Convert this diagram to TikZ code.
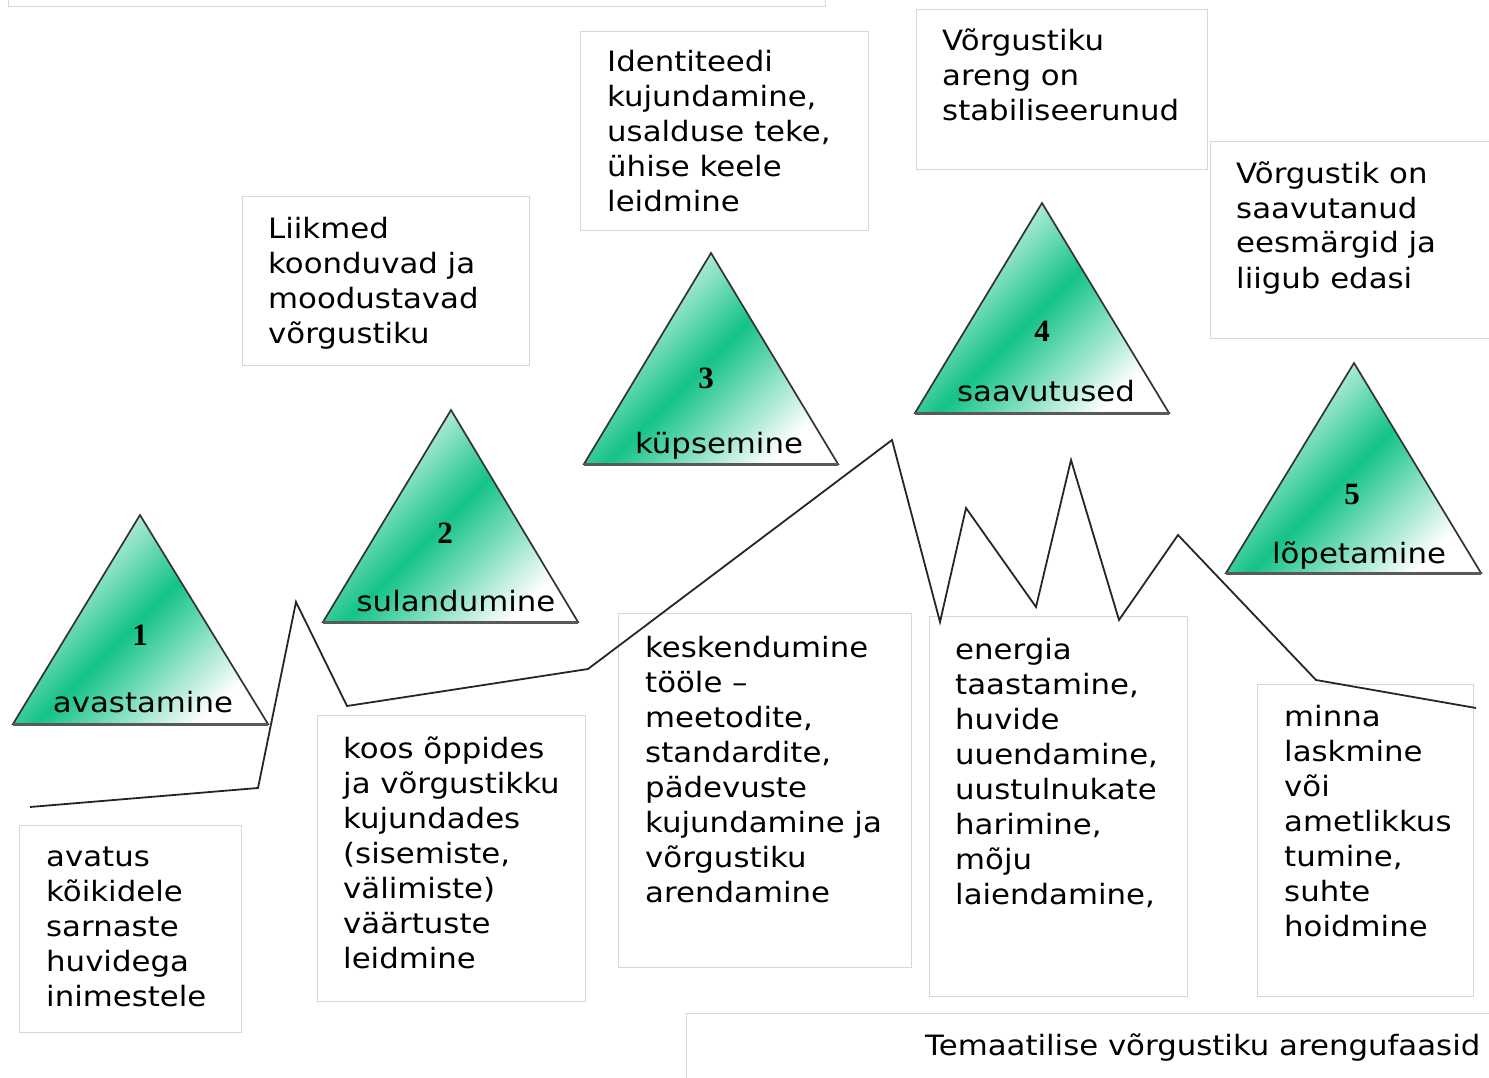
\documentclass[tikz,border=0pt]{standalone}
\usepackage{fontspec}
\setmainfont{DejaVu Sans}[FakeStretch=1.1]
\newfontfamily\numfont{Liberation Serif}
\definecolor{tgreen}{RGB}{20,195,135}
\definecolor{boxgray}{RGB}{215,215,215}
\pgfdeclarehorizontalshading{trishade}{100bp}{color(0bp)=(white); color(25bp)=(white); color(50bp)=(tgreen); color(75bp)=(white); color(100bp)=(white)}
\tikzset{
  boxnode/.style={draw=boxgray, line width=1.4pt, inner sep=0pt, anchor=north west},
  txt/.style={font=\fontsize{28}{35}\selectfont, align=left, inner sep=0pt, anchor=base west},
  tri/.style={draw=black!80, line width=1.7pt, line join=miter, shading=trishade, shading angle=-45},
  tribase/.style={draw=black!65, line width=2.6pt},
  lbl/.style={font=\fontsize{28}{35}\selectfont, inner sep=0pt, anchor=base},
  num/.style={font=\numfont\bfseries\fontsize{31}{31}\selectfont, inner sep=0pt, anchor=base},
  zig/.style={draw=black!85, line width=1.8pt, line join=miter}
}
\begin{document}
\begin{tikzpicture}[x=1pt,y=-1pt]
\useasboundingbox (0,0) rectangle (1489,1078);
% boxes
\node[boxnode, minimum width=817, minimum height=70] (btop) at (8,-64) {};
\node[boxnode, minimum width=287, minimum height=169] (bA) at (242,196) {};
\node[boxnode, minimum width=288, minimum height=199] (bB) at (580,31) {};
\node[boxnode, minimum width=291, minimum height=160] (bC) at (916,9) {};
\node[boxnode, minimum width=320, minimum height=197] (bD) at (1210,141) {};
\node[boxnode, minimum width=222, minimum height=207] (bE) at (19,825) {};
\node[boxnode, minimum width=268, minimum height=286] (bF) at (317,715) {};
\node[boxnode, minimum width=293, minimum height=354] (bG) at (618,613) {};
\node[boxnode, minimum width=258, minimum height=380] (bH) at (929,616) {};
\node[boxnode, minimum width=216, minimum height=312] (bI) at (1257,684) {};
\node[boxnode, minimum width=860, minimum height=120] (bT) at (686,1013) {};
% box texts (anchored at the baseline of the last line)
\node[txt] (tA) at (268,343) {Liikmed\\koonduvad ja\\moodustavad\\võrgustiku};
\node[txt] (tB) at (607,212) {Identiteedi\\kujundamine,\\usalduse teke,\\ühise keele\\leidmine};
\node[txt] (tC) at (942,121) {Võrgustiku\\areng on\\stabiliseerunud};
\node[txt] (tD) at (1236,288) {Võrgustik on\\saavutanud\\eesmärgid ja\\liigub edasi};
\node[txt] (tE) at (46,1006) {avatus\\kõikidele\\sarnaste\\huvidega\\inimestele};
\node[txt] (tF) at (343,968) {koos õppides\\ja võrgustikku\\kujundades\\(sisemiste,\\välimiste)\\väärtuste\\leidmine};
\node[txt] (tG) at (645,902) {keskendumine\\tööle –\\meetodite,\\standardite,\\pädevuste\\kujundamine ja\\võrgustiku\\arendamine};
\node[txt] (tH) at (955,904) {energia\\taastamine,\\huvide\\uuendamine,\\uustulnukate\\harimine,\\mõju\\laiendamine,};
\node[txt] (tI) at (1284,936) {minna\\laskmine\\või\\ametlikkus\\tumine,\\suhte\\hoidmine};
\node[txt] (tT) at (925,1055) {Temaatilise võrgustiku arengufaasid};
% zigzag line
\draw[zig] (30,807) -- (258,788) -- (296,602) -- (347,706) -- (588,669) -- (892,440)
  -- (940,622) -- (966,508) -- (1036,607) -- (1071,460) -- (1119,620) -- (1178,535)
  -- (1316,680) -- (1476,708);
% triangles
\path[tri] (140,515) -- (13,724) -- (268,724) -- cycle;
\draw[tribase] (13,724.5) -- (268,724.5);
\path[tri] (451,410) -- (323,622) -- (578,622) -- cycle;
\draw[tribase] (323,622.5) -- (578,622.5);
\path[tri] (711,253) -- (584,464) -- (838,464) -- cycle;
\draw[tribase] (584,464.5) -- (838,464.5);
\path[tri] (1042,203) -- (915,413) -- (1169,413) -- cycle;
\draw[tribase] (915,413.5) -- (1169,413.5);
\path[tri] (1354,363) -- (1226,573) -- (1481,573) -- cycle;
\draw[tribase] (1226,573.5) -- (1481,573.5);
% triangle labels
\node[num] (n1) at (140,645) {1};
\node[lbl] (l1) at (143,712) {avastamine};
\node[num] (n2) at (445,543) {2};
\node[lbl] (l2) at (456,611) {sulandumine};
\node[num] (n3) at (706,388) {3};
\node[lbl] (l3) at (719,453) {küpsemine};
\node[num] (n4) at (1042,341) {4};
\node[lbl] (l4) at (1046,401) {saavutused};
\node[num] (n5) at (1352,504) {5};
\node[lbl] (l5) at (1359,563) {lõpetamine};
\end{tikzpicture}
\end{document}
